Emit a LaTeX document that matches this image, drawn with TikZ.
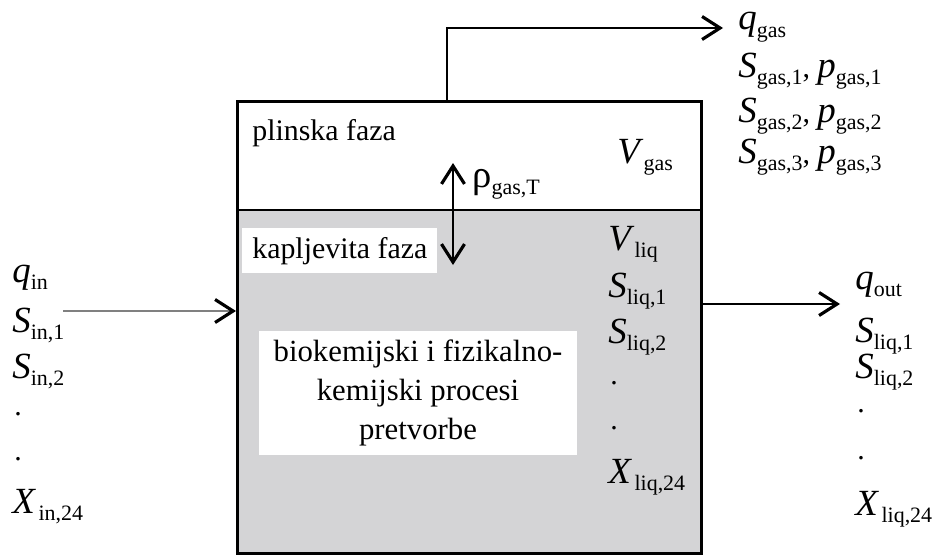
\documentclass[tikz,border=0pt]{standalone}
\usepackage{fontspec}
\setmainfont{Liberation Serif}
\usetikzlibrary{arrows.meta,positioning}
\definecolor{liqgray}{RGB}{212,212,214}
\newcommand{\vsub}[2]{{\fontsize{21}{21}\selectfont\itshape #1}\raisebox{-4.5pt}{\fontsize{12.5}{12.5}\selectfont #2}}

\begin{document}
\begin{tikzpicture}[
    x=0.02cm,
    y=-0.02cm,
    font=\fontsize{17}{20}\selectfont,
    >={Straight Barb[length=3.6mm, width=4.6mm, line width=1.8pt]},
    reactor/.style={
        rectangle,
        draw=black,
        line width=1.7pt,
        minimum width=9.28cm,
        minimum height=9.04cm,
        anchor=north west
    },
    whitebox/.style={
        rectangle,
        fill=white,
        inner xsep=0.2cm,
        inner ysep=0pt
    },
    flow/.style={
        ->,
        line width=1.1pt
    },
    var/.style={
        anchor=base west,
        inner sep=0pt
    }
  ]
 \useasboundingbox (0,0) rectangle (935,554);

% // the reactor
 \fill [liqgray] (236,210) rectangle (700,552);
 \node [reactor] (reactor) at (236,100) {};
 \draw [line width=1.1pt] (reactor.west |- 0,210) -- (reactor.east |- 0,210);

 \node [var] (gasphase) at (252,140) {plinska faza};
 \node [whitebox, anchor=north west, minimum height=0.9cm] (liqphase) at (242,228) {kapljevita faza};
 \node [whitebox, minimum width=6.38cm, minimum height=2.5cm, align=center,
   font=\fontsize{17.5}{22.2}\selectfont] (process) at (418,393)
 {biokemijski i fizikalno-\\kemijski procesi\\pretvorbe};

% // gas / liquid exchange
 \coordinate (ptop) at (453,163);
 \coordinate (pbot) at (453,265);
 \draw [<->, line width=1.1pt] (pbot) -- (ptop);
 \node [var] (rho) at (472,187) {{\fontsize{22}{22}\selectfont ρ}\raisebox{-4.5pt}{\fontsize{12.5}{12.5}\selectfont gas,T}};
 \node [var] (vgas) at (617,163) {\vsub{V}{\,gas}};

% liquid state
 \node [var] (vliq) at (608,250) {\vsub{V}{\,liq}};
 \node [var] (sliq1) at (608,297) {\vsub{S}{liq,1}};
 \node [var] (sliq2) at (608,343) {\vsub{S}{liq,2}};
 \node [var] (dliq1) at (610,384) {.};
 \node [var] (dliq2) at (610,429) {.};
 \node [var] (xliq) at (608,483) {\vsub{X}{\,liq,24}};

% // inflow
 \node [var] (qin) at (12,282) {\vsub{q}{in}};
 \node [var] (sin1) at (12,332) {\vsub{S}{in,1}};
 \node [var] (sin2) at (12,378) {\vsub{S}{in,2}};
 \node [var] (din1) at (14,415) {.};
 \node [var] (din2) at (14,460) {.};
 \node [var] (xin) at (12,513) {\vsub{X}{\,in,24}};
 \coordinate (inflow) at (63,311);
 \draw [line width=1.1pt, draw=gray, -{Straight Barb[length=3.6mm, width=4.6mm, line width=1.8pt, color=black]}]
   (inflow) -- (inflow -| reactor.west);

% // outflow
 \coordinate (outend) at (840,304);
 \draw [flow] (reactor.east |- outend) -- (outend);
 \node [var] (qout) at (855,289) {\vsub{q}{out}};
 \node [var] (sout1) at (855,342) {\vsub{S}{liq,1}};
 \node [var] (sout2) at (855,378) {\vsub{S}{liq,2}};
 \node [var] (dout1) at (857,412) {.};
 \node [var] (dout2) at (857,459) {.};
 \node [var] (xout) at (855,515) {\vsub{X}{\,liq,24}};

% // gas outflow
 \coordinate (gasout) at (447,100);
 \coordinate (gasend) at (723,28);
 \draw [flow] (gasout) |- (gasend);
 \node [var] (qgas) at (738,30) {\vsub{q}{gas}};
 \node [var] (sgas1) at (738,77) {\vsub{S}{gas,1}, \vsub{p}{gas,1}};
 \node [var] (sgas2) at (738,122) {\vsub{S}{gas,2}, \vsub{p}{gas,2}};
 \node [var] (sgas3) at (738,163) {\vsub{S}{gas,3}, \vsub{p}{gas,3}};

\end{tikzpicture}
\end{document}
